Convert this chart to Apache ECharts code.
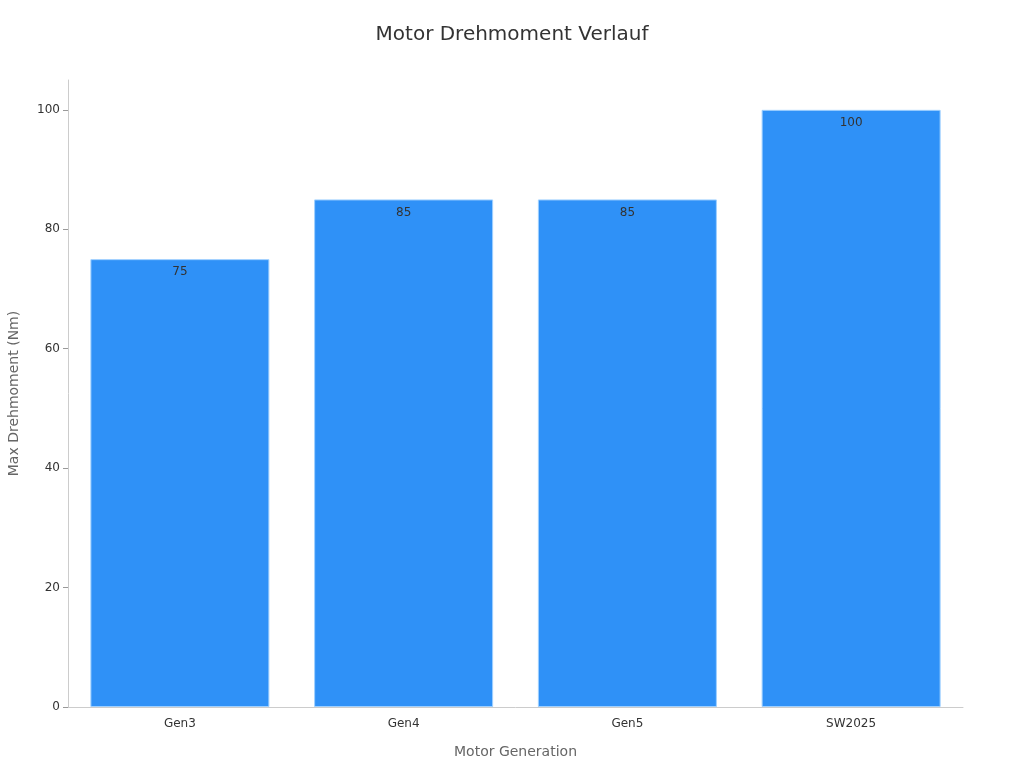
<!DOCTYPE html>
<html>
<head>
<meta charset="utf-8">
<script src="https://cdn.jsdelivr.net/npm/echarts@6/dist/echarts.min.js"></script>
<style>
html, body { margin: 0; padding: 0; background: #fff; }
#main { width: 1024px; height: 768px; }
</style>
</head>
<body>
<div id="main"></div>
<script>
var categories = ['Gen3', 'Gen4', 'Gen5', 'SW2025'];
var torque = [75, 85, 85, 100];
var yTicks = [0, 20, 40, 60, 80, 100];

var myChart = echarts.init(document.getElementById('main'));

var option = {
	backgroundColor: '#fff',
	textStyle: { fontFamily: 'DejaVu Sans' },
	title: {
		text: 'Motor Drehmoment Verlauf',
		left: 'center',
		top: 20,
		textStyle: { fontSize: 20, fontWeight: 'normal', color: '#333' }
	},
	grid: { left: 68, right: 61, top: 80, bottom: 61, containLabel: false, outerBoundsMode: 'none' },
	xAxis: {
		type: 'category',
		data: categories,
		name: 'Motor Generation',
		nameLocation: 'middle',
		nameGap: 38,
		nameTextStyle: { fontSize: 14, color: '#666' },
		axisLine: { lineStyle: { color: '#ccc' } },
		axisTick: { alignWithLabel: true, lineStyle: { color: '#999' } },
		axisLabel: { color: '#333', fontSize: 12, margin: 11 }
	},
	yAxis: {
		type: 'value',
		min: 0,
		max: 105,
		name: 'Max Drehmoment (Nm)',
		nameLocation: 'middle',
		nameGap: 47,
		nameTextStyle: { fontSize: 14, color: '#666' },
		splitLine: { show: false },
		axisLine: { show: true, lineStyle: { color: '#ccc' } },
		axisTick: { show: true, customValues: yTicks, lineStyle: { color: '#999' } },
		axisLabel: { customValues: yTicks, color: '#333', fontSize: 12 }
	},
	series: [{
		type: 'bar',
		data: torque,
		barWidth: '80%',
		itemStyle: {
			color: '#2f91f7',
			borderColor: '#9fd0ff',
			borderWidth: 1
		},
		label: {
			show: true,
			position: 'insideTop',
			distance: 7,
			color: '#333',
			fontSize: 12
		}
	}]
};

myChart.setOption(option);
</script>
</body>
</html>
